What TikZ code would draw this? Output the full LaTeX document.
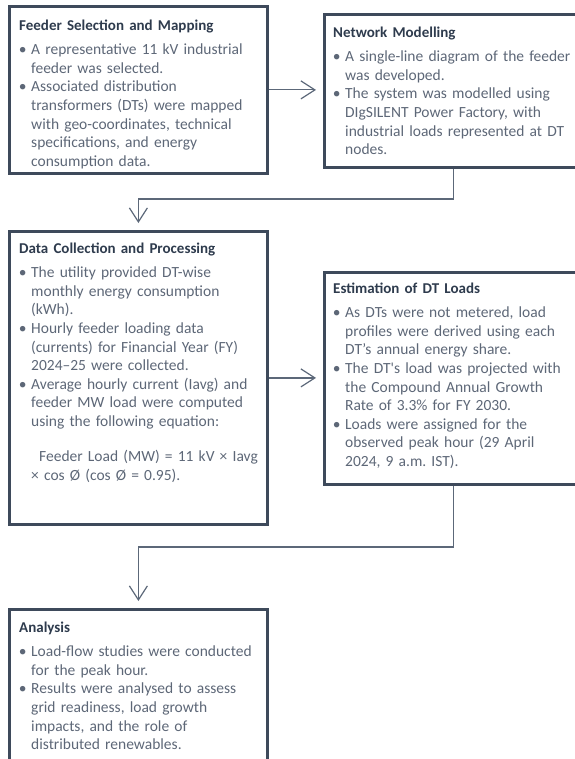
\documentclass[tikz,border=0pt]{standalone}
\usepackage{fontspec}
\setmainfont{Carlito}
\usetikzlibrary{arrows.meta}
\definecolor{framec}{HTML}{3E4A5B}
\definecolor{titlec}{HTML}{2E3B4D}
\definecolor{bodyc}{HTML}{5D6777}
\definecolor{connc}{HTML}{5C6879}
\setlength{\parskip}{0pt}
\setlength{\parindent}{0pt}
\frenchspacing
\newcommand{\boxtitle}[1]{\noindent\rule{0pt}{12pt}{\fontsize{15}{18.6}\selectfont\bfseries\color{titlec}#1}\par\vspace{5.9pt}}
\newcommand{\bitem}[1]{{\leftskip=12pt\noindent\llap{\textbullet\hspace{4.5pt}}#1\par}}
\tikzset{
  frame/.style={draw=framec, line width=2.8pt, inner sep=0pt, anchor=north west, minimum width=258pt},
  txt/.style={anchor=north west, inner sep=0pt, text width=250pt, text=bodyc,
    font=\fontsize{15.5}{18.6}\selectfont\frenchspacing},
  conn/.style={draw=connc, line width=1.2pt, -{Straight Barb[length=14pt,width=18pt]}, shorten >=7pt}
}
\begin{document}
\begin{tikzpicture}[x=1pt,y=-1pt]
\useasboundingbox (0,0) rectangle (574,759);
% frames
\node[frame, minimum height=167pt] (b1) at (8,5) {};
\node[frame, minimum height=153pt] (b2) at (323,13) {};
\node[frame, minimum height=293pt] (b3) at (8,230) {};
\node[frame, minimum height=212pt] (b4) at (323,271) {};
\node[frame, minimum height=157pt] (b5) at (8,608) {};
% texts
\node[txt] (t1) at (19,18) {\boxtitle{Feeder Selection and Mapping}%
\bitem{A representative 11 kV industrial\newline feeder was selected.}%
\bitem{Associated distribution\newline transformers (DTs) were mapped\newline with geo-coordinates, technical\newline specifications, and energy\newline consumption data.}};
\node[txt] (t2) at (333,25) {\boxtitle{Network Modelling}%
\bitem{A single-line diagram of the feeder\newline was developed.}%
\bitem{The system was modelled using\newline DIgSILENT Power Factory, with\newline industrial loads represented at DT\newline nodes.}};
\node[txt] (t3) at (19,241) {\boxtitle{Data Collection and Processing}%
\bitem{The utility provided DT-wise\newline monthly energy consumption\newline (kWh).}%
\bitem{Hourly feeder loading data\newline (currents) for Financial Year (FY)\newline 2024--25 were collected.}%
\bitem{Average hourly current (Iavg) and\newline feeder MW load were computed\newline using the following equation:}%
\vspace{16.4pt}%
{\leftskip=12pt\noindent\hspace*{8pt}Feeder Load (MW) = 11 kV × Iavg\newline × cos Ø (cos Ø = 0.95).\par}};
\node[txt] (t4) at (333,281) {\boxtitle{Estimation of DT Loads}%
\bitem{As DTs were not metered, load\newline profiles were derived using each\newline DT’s annual energy share.}%
\bitem{The DT\textquotesingle s load was projected with\newline the Compound Annual Growth\newline Rate of 3.3\% for FY 2030.}%
\bitem{Loads were assigned for the\newline observed peak hour (29 April\newline 2024, 9 a.m.\ IST).}};
\node[txt] (t5) at (19,620) {\boxtitle{Analysis}%
\bitem{Load-flow studies were conducted\newline for the peak hour.}%
\bitem{Results were analysed to assess\newline grid readiness, load growth\newline impacts, and the role of\newline distributed renewables.}};
% connectors
\coordinate (m1) at (0,199);
\coordinate (m2) at (0,547);
\draw[conn] (b1.east) -- (b1.east -| b2.west);
\draw[conn] (b2.south) -- (b2.south |- m1) -| (b3.north);
\draw[conn] (b3.east) -- (b3.east -| b4.west);
\draw[conn] (b4.south) -- (b4.south |- m2) -| (b5.north);
\end{tikzpicture}
\end{document}
